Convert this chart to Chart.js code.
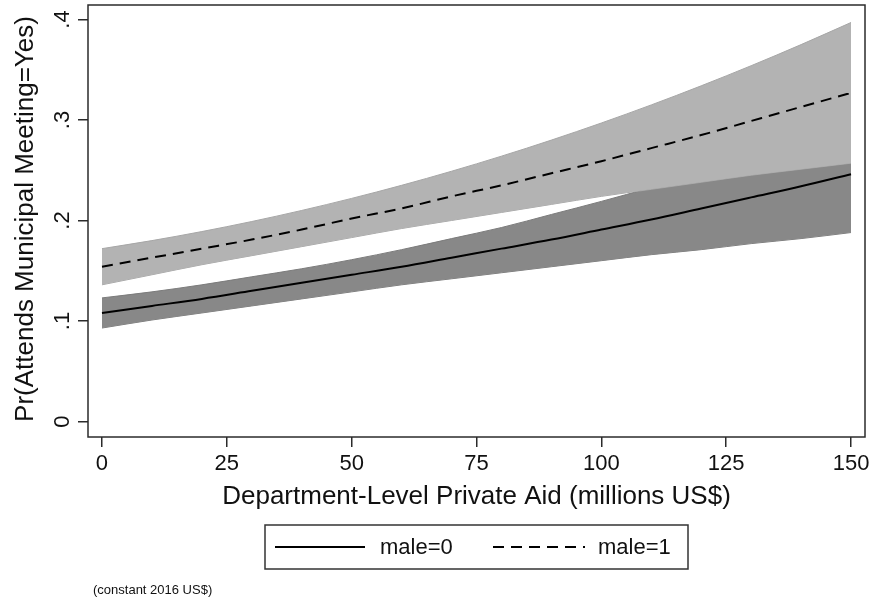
<!DOCTYPE html>
<html>
<head>
<meta charset="utf-8">
<script src="https://cdn.jsdelivr.net/npm/chart.js@4.4.1/dist/chart.umd.min.js"></script>
<style>
  html, body { margin: 0; padding: 0; background: #fff; }
  #wrap { width: 870px; height: 598px; }
</style>
</head>
<body>
<div id="wrap"><canvas id="myChart" width="870" height="598"></canvas></div>
<script>
// x values (millions US$)
let aid = [0, 10, 20, 30, 40, 50, 60, 70, 80, 90, 100, 110, 120, 130, 140, 150]

// male=0 : prediction + 95% CI
let male0 = [0.108, 0.115, 0.122, 0.130, 0.138, 0.146, 0.154, 0.163, 0.172, 0.181, 0.191, 0.201, 0.212, 0.223, 0.234, 0.246]
let male0Lo = [0.093, 0.101, 0.108, 0.115, 0.122, 0.129, 0.136, 0.142, 0.148, 0.154, 0.160, 0.166, 0.171, 0.177, 0.182, 0.188]
let male0Hi = [0.123, 0.129, 0.136, 0.144, 0.152, 0.161, 0.171, 0.182, 0.193, 0.206, 0.219, 0.233, 0.249, 0.266, 0.284, 0.303]

// male=1 : prediction + 95% CI
let male1 = [0.154, 0.163, 0.172, 0.181, 0.191, 0.202, 0.212, 0.224, 0.235, 0.247, 0.259, 0.272, 0.285, 0.299, 0.313, 0.327]
let male1Lo = [0.136, 0.146, 0.156, 0.165, 0.174, 0.183, 0.192, 0.200, 0.208, 0.216, 0.224, 0.231, 0.238, 0.245, 0.251, 0.257]
let male1Hi = [0.172, 0.180, 0.189, 0.199, 0.210, 0.222, 0.235, 0.249, 0.264, 0.280, 0.297, 0.315, 0.334, 0.354, 0.375, 0.397]

let xTicks = [0, 25, 50, 75, 100, 125, 150]
let yTicks = [0, 0.1, 0.2, 0.3, 0.4]
let yTickLabels = ['0', '.1', '.2', '.3', '.4']

const FONT = '"Liberation Sans", Arial, Helvetica, sans-serif'
const LIGHT = '#b3b3b3'
const DARK = '#888888'
const DASH = [11, 7]

function pts(ys){
    return ys.map((y, i) => ({x: aid[i], y: y}))
}

let bandLine = {
    pointRadius: 0,
    borderWidth: 1,
    cubicInterpolationMode: 'monotone'
}

let data = {
    datasets: [
        // drawn last -> on top
        {label: 'male=1', data: pts(male1), borderColor: '#000', borderWidth: 2,
            borderDash: DASH, pointRadius: 0, fill: false, cubicInterpolationMode: 'monotone'},
        {label: 'male=0', data: pts(male0), borderColor: '#000', borderWidth: 2,
            pointRadius: 0, fill: false, cubicInterpolationMode: 'monotone'},
        {label: 'hi1', data: pts(male1Hi), borderColor: '#a6a6a6', backgroundColor: LIGHT, fill: 3, ...bandLine},
        {label: 'lo1', data: pts(male1Lo), borderColor: '#a6a6a6', fill: false, ...bandLine},
        {label: 'hi0', data: pts(male0Hi), borderColor: '#7b7b7b', backgroundColor: DARK, fill: 5, ...bandLine},
        {label: 'lo0', data: pts(male0Lo), borderColor: '#7b7b7b', fill: false, ...bandLine}
    ]
}

// frame, rotated y labels, titles, legend, note
let decor = {
    id: 'decor',
    afterDraw(chart){
        let ctx = chart.ctx
        let a = chart.chartArea
        let ys = chart.scales.y
        ctx.save()

        ctx.strokeStyle = '#2b2b2b'
        ctx.lineWidth = 1.5
        ctx.strokeRect(a.left, a.top, a.right - a.left, a.bottom - a.top)

        ctx.fillStyle = '#111'
        ctx.font = '22px ' + FONT
        ctx.textAlign = 'center'
        ctx.textBaseline = 'middle'
        yTicks.forEach((v, i) => {
            let py = ys.getPixelForValue(v)
            ctx.save()
            ctx.translate(63, py)
            ctx.rotate(-Math.PI / 2)
            ctx.fillText(yTickLabels[i], 0, 0)
            ctx.restore()
        })

        ctx.font = '26px ' + FONT
        ctx.fillText('Department-Level Private Aid (millions US$)', (a.left + a.right) / 2, 497)
        ctx.save()
        ctx.translate(26, 219)
        ctx.rotate(-Math.PI / 2)
        ctx.fillText('Pr(Attends Municipal Meeting=Yes)', 0, 0)
        ctx.restore()

        // legend
        ctx.strokeStyle = '#333'
        ctx.lineWidth = 1.5
        ctx.strokeRect(265, 525, 423, 44)
        ctx.strokeStyle = '#000'
        ctx.lineWidth = 2
        ctx.beginPath()
        ctx.moveTo(275, 547)
        ctx.lineTo(365, 547)
        ctx.stroke()
        ctx.setLineDash(DASH)
        ctx.beginPath()
        ctx.moveTo(493, 547)
        ctx.lineTo(585, 547)
        ctx.stroke()
        ctx.setLineDash([])
        ctx.font = '22px ' + FONT
        ctx.textAlign = 'left'
        ctx.fillText('male=0', 380, 548)
        ctx.fillText('male=1', 598, 548)

        ctx.font = '13px ' + FONT
        ctx.fillText('(constant 2016 US$)', 93, 590)
        ctx.restore()
    }
}

let config = {
    type: 'line',
    data: data,
    options: {
        responsive: false,
        animation: false,
        layout: {
            padding: {top: 5, right: 5, left: 0, bottom: 0}
        },
        scales: {
            x: {
                type: 'linear',
                min: -2.8,
                max: 152.8,
                afterBuildTicks: (scale) => { scale.ticks = xTicks.map(v => ({value: v})) },
                afterFit: (scale) => {
                    scale.height = 161
                    scale.paddingLeft = 0
                    scale.paddingRight = 0
                },
                grid: {drawOnChartArea: false, drawTicks: true, tickLength: 10, color: '#2b2b2b', lineWidth: 1.5},
                border: {display: false},
                ticks: {color: '#111', font: {family: FONT, size: 22}, padding: 4, maxRotation: 0}
            },
            y: {
                type: 'linear',
                min: -0.0154,
                max: 0.4144,
                afterBuildTicks: (scale) => { scale.ticks = yTicks.map(v => ({value: v})) },
                afterFit: (scale) => {
                    scale.width = 88
                    scale.paddingTop = 0
                    scale.paddingBottom = 0
                },
                grid: {drawOnChartArea: false, drawTicks: true, tickLength: 10, color: '#2b2b2b', lineWidth: 1.5},
                border: {display: false},
                ticks: {color: 'rgba(0,0,0,0)', font: {family: FONT, size: 22}}
            }
        },
        plugins: {
            legend: {display: false},
            tooltip: {enabled: false}
        }
    },
    plugins: [decor]
}

let mychart = new Chart(document.getElementById('myChart'), config)
</script>
</body>
</html>
